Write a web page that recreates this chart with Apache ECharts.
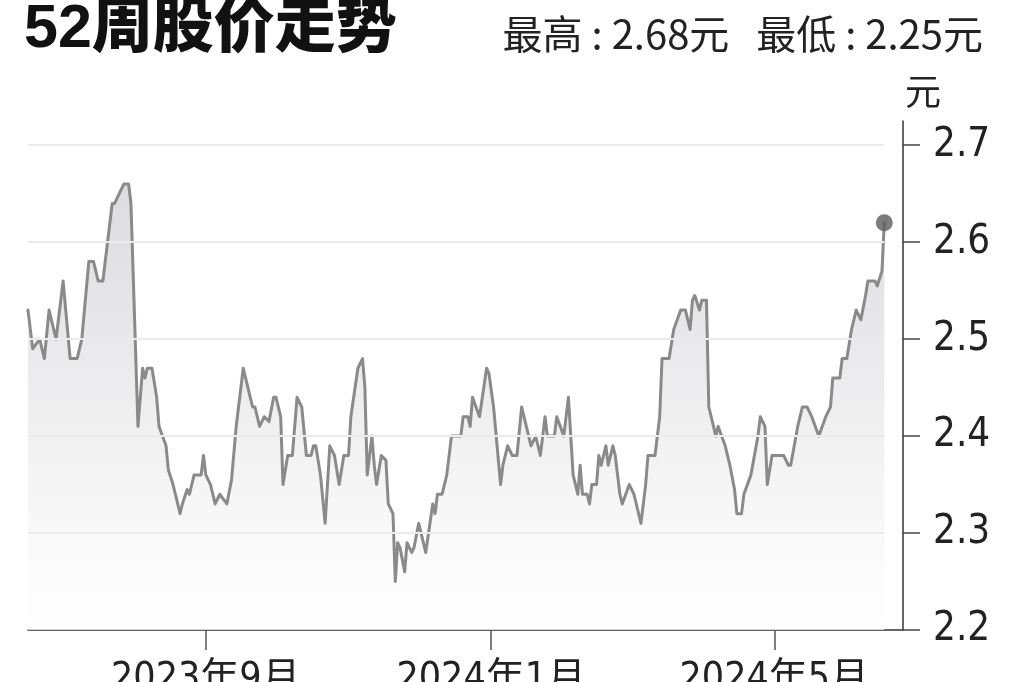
<!DOCTYPE html>
<html>
<head>
<meta charset="utf-8">
<script src="https://cdn.jsdelivr.net/npm/echarts@6/dist/echarts.min.js"></script>
<style>
html,body{margin:0;padding:0;background:#fff;}
#chart{width:1024px;height:682px;}
</style>
</head>
<body>
<div id="chart"></div>
<script>
// ---- data ----
const titleText = '52周股价走势';
const subText = '最高 : 2.68元   最低 : 2.25元';
const unitText = '元';
const yTicks = [2.2, 2.3, 2.4, 2.5, 2.6, 2.7];
const gridValues = [2.3, 2.4, 2.5, 2.6, 2.7];
const xTicks = ['2023-09-01', '2024-01-01', '2024-05-01'];
const xRange = ['2023-06-17', '2024-06-25'];
const yRange = [2.2, 2.725];

const dates = [
'2023-06-17','2023-06-19','2023-06-22','2023-06-24','2023-06-26','2023-06-29','2023-07-02','2023-07-05','2023-07-08','2023-07-10',
'2023-07-13','2023-07-15','2023-07-17','2023-07-19','2023-07-23','2023-07-24','2023-07-26','2023-07-28','2023-07-30','2023-07-31',
'2023-08-03','2023-08-05','2023-08-06','2023-08-07','2023-08-09','2023-08-11','2023-08-12','2023-08-15','2023-08-16','2023-08-18',
'2023-08-19','2023-08-21','2023-08-22','2023-08-24','2023-08-25','2023-08-27','2023-08-30','2023-08-31','2023-09-01','2023-09-03',
'2023-09-05','2023-09-07','2023-09-10','2023-09-12','2023-09-14','2023-09-17','2023-09-19','2023-09-21','2023-09-22','2023-09-24',
'2023-09-26','2023-09-28','2023-09-30','2023-10-01','2023-10-03','2023-10-04','2023-10-06','2023-10-08','2023-10-10','2023-10-12',
'2023-10-14','2023-10-16','2023-10-17','2023-10-18','2023-10-20','2023-10-22','2023-10-24','2023-10-26','2023-10-28','2023-10-30',
'2023-11-01','2023-11-02','2023-11-05','2023-11-07','2023-11-08','2023-11-09','2023-11-11','2023-11-12','2023-11-13','2023-11-15',
'2023-11-17','2023-11-18','2023-11-20','2023-11-21','2023-11-22','2023-11-23','2023-11-25','2023-11-26','2023-11-28','2023-11-29',
'2023-12-01','2023-12-04','2023-12-07','2023-12-08','2023-12-09','2023-12-11','2023-12-13','2023-12-15','2023-12-19','2023-12-20',
'2023-12-22','2023-12-23','2023-12-24','2023-12-27','2023-12-30','2023-12-31','2024-01-02','2024-01-05','2024-01-06','2024-01-08',
'2024-01-10','2024-01-12','2024-01-14','2024-01-15','2024-01-18','2024-01-20','2024-01-22','2024-01-24','2024-01-25','2024-01-28',
'2024-01-29','2024-02-01','2024-02-03','2024-02-05','2024-02-07','2024-02-08','2024-02-09','2024-02-11','2024-02-12','2024-02-13',
'2024-02-15','2024-02-16','2024-02-17','2024-02-19','2024-02-20','2024-02-22','2024-02-23','2024-02-25','2024-02-26','2024-02-29',
'2024-03-02','2024-03-05','2024-03-07','2024-03-08','2024-03-11','2024-03-13','2024-03-14','2024-03-17','2024-03-19','2024-03-22',
'2024-03-24','2024-03-26','2024-03-27','2024-03-28','2024-03-30','2024-03-31','2024-04-02','2024-04-03','2024-04-05','2024-04-06',
'2024-04-07','2024-04-10','2024-04-12','2024-04-14','2024-04-15','2024-04-17','2024-04-18','2024-04-21','2024-04-24','2024-04-25',
'2024-04-27','2024-04-28','2024-04-30','2024-05-05','2024-05-07','2024-05-08','2024-05-11','2024-05-13','2024-05-15','2024-05-17',
'2024-05-20','2024-05-23','2024-05-25','2024-05-26','2024-05-29','2024-05-30','2024-06-01','2024-06-03','2024-06-05','2024-06-07',
'2024-06-09','2024-06-10','2024-06-13','2024-06-14','2024-06-16','2024-06-17'
];
const prices = [
2.53,2.49,2.50,2.48,2.53,2.50,2.56,2.48,2.48,2.50,
2.58,2.58,2.56,2.56,2.64,2.64,2.65,2.66,2.66,2.64,
2.41,2.47,2.46,2.47,2.47,2.44,2.41,2.39,2.365,2.35,
2.34,2.32,2.33,2.345,2.34,2.36,2.36,2.38,2.36,2.35,
2.33,2.34,2.33,2.355,2.41,2.47,2.45,2.43,2.43,2.41,
2.42,2.415,2.44,2.44,2.42,2.35,2.38,2.38,2.44,2.43,
2.38,2.38,2.39,2.39,2.36,2.31,2.39,2.38,2.35,2.38,
2.38,2.42,2.47,2.48,2.45,2.36,2.40,2.37,2.35,2.38,
2.375,2.33,2.32,2.25,2.29,2.285,2.26,2.29,2.28,2.285,
2.31,2.28,2.33,2.32,2.34,2.34,2.36,2.40,2.40,2.42,
2.42,2.41,2.44,2.42,2.47,2.465,2.43,2.35,2.37,2.39,
2.38,2.38,2.43,2.42,2.39,2.40,2.38,2.42,2.40,2.40,
2.42,2.40,2.44,2.36,2.34,2.37,2.34,2.34,2.33,2.35,
2.35,2.38,2.37,2.39,2.37,2.39,2.38,2.34,2.33,2.35,
2.34,2.31,2.35,2.38,2.38,2.42,2.48,2.48,2.51,2.53,
2.53,2.51,2.54,2.545,2.53,2.54,2.54,2.43,2.41,2.40,
2.41,2.39,2.37,2.345,2.32,2.32,2.34,2.36,2.40,2.42,
2.41,2.35,2.38,2.38,2.37,2.37,2.41,2.43,2.43,2.42,
2.40,2.42,2.43,2.46,2.46,2.48,2.48,2.51,2.53,2.52,
2.545,2.56,2.56,2.555,2.57,2.62
];

// ---- build ----
function toTs(s){ const p = s.split('-').map(Number); return new Date(p[0], p[1]-1, p[2]).getTime(); }
const seriesData = dates.map((d, i) => [toTs(d), prices[i]]);
const firstTs = toTs(dates[0]);
const lastTs = toTs(dates[dates.length-1]);
const lastVal = prices[prices.length-1];
const xTickTs = xTicks.map(toTs);

const narrow = "'Liberation Sans Narrow', 'DejaVu Sans Condensed', 'Noto Sans CJK SC', sans-serif";
const chart = echarts.init(document.getElementById('chart'), null, {renderer:'canvas'});
chart.setOption({
  animation: false,
  backgroundColor: '#fff',
  title: [
    {text: titleText, left: 19, top: -5,
     textStyle: {fontSize: 61, fontWeight: 900, color: '#111', fontFamily: "'Liberation Sans', 'Noto Sans CJK SC', sans-serif"}},
    {text: subText, right: 36, top: 9,
     textStyle: {fontSize: 40, fontWeight: 'normal', color: '#222', fontFamily: "'Noto Sans CJK SC', sans-serif"}}
  ],
  grid: {left: 28, right: 121, top: 121, bottom: 52, containLabel: false, outerBoundsMode: 'none'},
  xAxis: {
    type: 'value', min: toTs(xRange[0]), max: toTs(xRange[1]),
    axisLine: {show: true, lineStyle: {color: '#333', width: 1.5}},
    axisTick: {show: true, customValues: xTickTs, length: 20, lineStyle: {color: '#555', width: 1.5}},
    axisLabel: {show: true, customValues: xTickTs, margin: 30, fontSize: 39, color: '#222', fontFamily: narrow,
      formatter: function(v){ const d = new Date(v); return d.getFullYear() + '年' + (d.getMonth()+1) + '月'; }},
    splitLine: {show: false}
  },
  yAxis: {
    type: 'value', position: 'right', min: yRange[0], max: yRange[1],
    name: unitText, nameLocation: 'end', nameGap: 12,
    nameTextStyle: {fontSize: 36, color: '#222', align: 'left', padding: [0,0,0,2], fontFamily: "'Noto Sans CJK SC', sans-serif"},
    axisLine: {show: true, lineStyle: {color: '#333', width: 1.5}},
    axisTick: {show: true, inside: false, customValues: yTicks, length: 17, lineStyle: {color: '#444', width: 1.5}},
    axisLabel: {show: true, customValues: yTicks, margin: 30, fontSize: 40, color: '#222', fontFamily: narrow,
      formatter: function(v){ return Number(v).toFixed(1); }},
    splitLine: {show: false}
  },
  series: [
    {
      type: 'line', data: seriesData, showSymbol: false, smooth: false,
      lineStyle: {color: '#8a8a8a', width: 3, join: 'round', cap: 'round'},
      areaStyle: {origin: 'start', color: new echarts.graphic.LinearGradient(0, 0, 0, 1, [
        {offset: 0, color: '#cdcdd1'}, {offset: 0.7, color: '#f2f2f3'}, {offset: 1, color: '#ffffff'}])},
      markLine: {
        silent: true, symbol: ['none','none'], label: {show: false},
        lineStyle: {color: '#ebebeb', width: 2, type: 'solid'},
        data: gridValues.map(v => [{coord: [firstTs, v]}, {coord: [lastTs, v]}])
      },
      z: 3
    },
    {
      type: 'scatter', data: [[lastTs, lastVal]], symbolSize: 17,
      itemStyle: {color: '#5b5b5d'}, z: 5
    }
  ]
});
</script>
</body>
</html>
